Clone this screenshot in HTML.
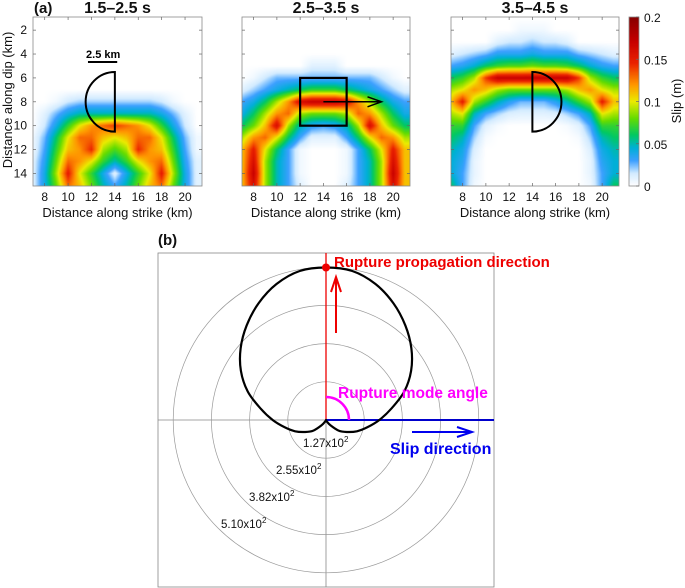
<!DOCTYPE html>
<html><head><meta charset="utf-8">
<style>
html,body{margin:0;padding:0;background:#fff;}
#wrap{position:relative;width:685px;height:588px;overflow:hidden;font-family:"Liberation Sans",Arial,sans-serif;}
canvas{position:absolute;}
svg{position:absolute;left:0;top:0;}
text{font-family:"Liberation Sans",Arial,sans-serif;}
</style></head>
<body>
<div id="wrap">
<canvas id="c1"></canvas>
<canvas id="c2"></canvas>
<canvas id="c3"></canvas>
<canvas id="cb"></canvas>
<svg id="svg" width="685" height="588"></svg>
</div>
<script>
// ---------- DATA ----------
// grid nodes: strike x = 7..21 (1 km), dip y = 1..15 (1 km)
// each row: half profile, distance |x-14| = 0..7 (mirrored about x=14)
const gridX = [7,8,9,10,11,12,13,14,15,16,17,18,19,20,21];
const gridY = [1,2,3,4,5,6,7,8,9,10,11,12,13,14,15];
const slip1 = [
 [0,0,0,0,0,0,0,0],[0,0,0,0,0,0,0,0],[0,0,0,0,0,0,0,0],[0,0,0,0,0,0,0,0],
 [0,0,0,0,0,0,0,0],[0,0,0,0,0,0,0,0],[0,0,0,0,0,0,0,0],
 [0.02,0.02,0.02,0.02,0.015,0.005,0,0],
 [0.05,0.05,0.05,0.05,0.04,0.025,0.01,0],
 [0.14,0.13,0.12,0.10,0.07,0.04,0.015,0],
 [0.10,0.11,0.13,0.13,0.10,0.06,0.025,0.005],
 [0.075,0.09,0.145,0.12,0.11,0.07,0.03,0.005],
 [0.05,0.07,0.10,0.12,0.13,0.08,0.035,0.01],
 [0.01,0.04,0.07,0.10,0.15,0.09,0.04,0.01],
 [0.03,0.05,0.08,0.11,0.13,0.08,0.04,0.01]
];
const slip2 = [
 [0,0,0,0,0,0,0,0],[0,0,0,0,0,0,0,0],[0,0,0,0,0,0,0,0],[0,0,0,0,0,0,0,0],
 [0.01,0.01,0,0,0,0,0,0],
 [0.025,0.025,0.025,0.025,0.025,0.015,0.005,0],
 [0.07,0.07,0.06,0.05,0.04,0.03,0.02,0.01],
 [0.17,0.17,0.16,0.12,0.09,0.06,0.04,0.03],
 [0.08,0.08,0.09,0.13,0.12,0.09,0.06,0.04],
 [0.03,0.035,0.05,0.09,0.16,0.11,0.08,0.06],
 [0.01,0.01,0.03,0.06,0.10,0.13,0.12,0.09],
 [0,0,0.005,0.03,0.06,0.10,0.15,0.11],
 [0,0,0.005,0.03,0.05,0.09,0.16,0.11],
 [0,0,0.005,0.03,0.05,0.09,0.17,0.11],
 [0,0,0.01,0.03,0.05,0.09,0.16,0.11]
];
const slip3 = [
 [0,0,0,0,0,0,0,0],
 [0.005,0.005,0,0,0,0,0,0],
 [0.02,0.015,0.015,0.01,0,0,0,0],
 [0.04,0.035,0.035,0.035,0.025,0.02,0.015,0.01],
 [0.08,0.075,0.075,0.07,0.06,0.045,0.035,0.03],
 [0.17,0.17,0.17,0.17,0.14,0.09,0.07,0.06],
 [0.08,0.08,0.08,0.09,0.11,0.12,0.10,0.09],
 [0.025,0.025,0.035,0.05,0.07,0.09,0.15,0.11],
 [0.01,0.01,0.012,0.02,0.03,0.05,0.10,0.09],
 [0,0,0,0.003,0.01,0.03,0.07,0.07],
 [0,0,0,0,0.003,0.02,0.05,0.06],
 [0,0,0,0,0,0.012,0.04,0.05],
 [0,0,0,0,0,0.008,0.035,0.045],
 [0,0,0,0,0,0.008,0.03,0.045],
 [0,0,0,0,0,0.005,0.03,0.06]
];
const panelTitles = ["1.5\u20132.5 s","2.5\u20133.5 s","3.5\u20134.5 s"];
const xTicks = [8,10,12,14,16,18,20];
const yTicks = [2,4,6,8,10,12,14];
const cbTicks = [0,0.05,0.1,0.15,0.2];
const cbLabels = ["0","0.05","0.1","0.15","0.2"];
// polar pattern (panel b): angle from downward axis (deg), radius (x10^2)
const polarAngles = [0,10,20,30,40,50,60,70,80,90,100,110,120,130,140,150,160,170,180];
const polarRadii  = [0,0,0.01,0.05,0.23,0.55,0.8,1.1,1.4,1.78,2.22,2.78,3.28,3.72,4.12,4.5,4.83,5.05,5.09];
const ringValues = [1.275,2.55,3.825,5.10];
const ringLabels = ["1.27x10","2.55x10","3.82x10","5.10x10"];

// ---------- COLORMAP ----------
const cmStops=[[0,[255,255,255]],[0.015,[210,235,255]],[0.03,[60,160,255]],[0.045,[0,175,215]],[0.06,[0,200,100]],[0.08,[100,220,0]],[0.1,[235,235,0]],[0.12,[255,150,0]],[0.145,[235,35,0]],[0.17,[200,0,0]],[0.2,[135,0,0]]];
function cmap(v){
  if(v<=0) return cmStops[0][1];
  for(let i=1;i<cmStops.length;i++){
    if(v<=cmStops[i][0]){const a=cmStops[i-1],b=cmStops[i];const t=(v-a[0])/(b[0]-a[0]);
      return [0,1,2].map(k=>Math.round(a[1][k]+(b[1][k]-a[1][k])*t));}
  }
  return cmStops[cmStops.length-1][1];
}
// ---------- AXES ----------
const panels=[{l:33,r:202},{l:242,r:410},{l:451,r:619}];
const TOP=17,BOT=186,XMIN=7,XMAX=21.45,YMIN=0.9,YMAX=15.05;
function xs(p,v){return p.l+(v-XMIN)/(XMAX-XMIN)*(p.r-p.l);}
function ys(v){return TOP+(v-YMIN)/(YMAX-YMIN)*(BOT-TOP);}
function gridVal(data,x,y){
  let cx=Math.min(Math.max(x,gridX[0]),gridX[gridX.length-1]);
  let cy=Math.min(Math.max(y,gridY[0]),gridY[gridY.length-1]);
  let i=Math.min(Math.floor(cx-gridX[0]),gridX.length-2),j=Math.min(Math.floor(cy-gridY[0]),gridY.length-2);
  let tx=cx-gridX[i],ty=cy-gridY[j];
  const g=(ii,jj)=>data[jj][Math.abs(gridX[ii]-14)];
  return (g(i,j)*(1-tx)+g(i+1,j)*tx)*(1-ty)+(g(i,j+1)*(1-tx)+g(i+1,j+1)*tx)*ty;
}
const datas=[slip1,slip2,slip3];
['c1','c2','c3'].forEach((id,k)=>{
  const p=panels[k],c=document.getElementById(id);
  const w=p.r-p.l,h=BOT-TOP;c.width=w;c.height=h;c.style.left=p.l+'px';c.style.top=TOP+'px';
  const ctx=c.getContext('2d'),im=ctx.createImageData(w,h);
  for(let py=0;py<h;py++)for(let px=0;px<w;px++){
    const x=XMIN+(px+0.5)/w*(XMAX-XMIN),y=YMIN+(py+0.5)/h*(YMAX-YMIN);
    const col=cmap(gridVal(datas[k],x,y));const o=(py*w+px)*4;
    im.data[o]=col[0];im.data[o+1]=col[1];im.data[o+2]=col[2];im.data[o+3]=255;}
  ctx.putImageData(im,0,0);
});
// colorbar
(function(){const c=document.getElementById('cb');const w=10,h=BOT-TOP;c.width=w;c.height=h;c.style.left='629px';c.style.top=TOP+'px';
 const ctx=c.getContext('2d');for(let py=0;py<h;py++){const col=cmap(0.2*(1-(py+0.5)/h));ctx.fillStyle=`rgb(${col})`;ctx.fillRect(0,py,w,1);}})();

// ---------- SVG ----------
const svg=document.getElementById('svg');const NS='http://www.w3.org/2000/svg';
function el(tag,attrs,parent){const e=document.createElementNS(NS,tag);for(const k in attrs)e.setAttribute(k,attrs[k]);(parent||svg).appendChild(e);return e;}
function txt(s,attrs,parent){const e=el('text',attrs,parent);e.textContent=s;return e;}

panels.forEach((p,k)=>{
  const g=el('g',{});
  
  
  el('rect',{x:p.l,y:TOP,width:p.r-p.l,height:BOT-TOP,fill:'none',stroke:'#8a8a8a','stroke-width':0.8},g);
  xTicks.forEach(v=>{const x=xs(p,v);
    el('line',{x1:x,y1:BOT,x2:x,y2:BOT-3,stroke:'#666','stroke-width':0.7},g);
    el('line',{x1:x,y1:TOP,x2:x,y2:TOP+3,stroke:'#666','stroke-width':0.7},g);
    const t=txt(String(v),{x:x,y:201,'font-size':12,'text-anchor':'middle',fill:'#111'},g);
    
    });
  yTicks.forEach(v=>{const y=ys(v);
    el('line',{x1:p.l,y1:y,x2:p.l+3,y2:y,stroke:'#666','stroke-width':0.7},g);
    el('line',{x1:p.r,y1:y,x2:p.r-3,y2:y,stroke:'#666','stroke-width':0.7},g);
    if(k===0){const t=txt(String(v),{x:27,y:y+4,'font-size':12,'text-anchor':'end',fill:'#111'},g);
      
      }});
  const xl=txt('Distance along strike (km)',{x:(p.l+p.r)/2,y:217,'font-size':13,'text-anchor':'middle',fill:'#111'},g);
  
  
  const ti=txt(panelTitles[k],{x:(p.l+p.r)/2,y:13,'font-size':16,'font-weight':'bold','text-anchor':'middle',fill:'#111'},g);
  
  
});
const pa=txt('(a)',{x:34,y:13,'font-size':15,'font-weight':'bold',fill:'#111'});


const yl=txt('Distance along dip (km)',{x:0,y:0,'font-size':13,'text-anchor':'middle',fill:'#111',transform:'translate(12,100) rotate(-90)'});


// colorbar axis
el('rect',{x:629,y:TOP,width:10,height:BOT-TOP,fill:'none',stroke:'#8a8a8a','stroke-width':0.8});
cbTicks.forEach((v,i)=>{const y=BOT-(v/0.2)*(BOT-TOP);
  el('line',{x1:636,y1:y,x2:639,y2:y,stroke:'#666','stroke-width':0.7});
  const t=txt(cbLabels[i],{x:644,y:y+5,'font-size':12,fill:'#111'});
  
  });
const sl=txt('Slip (m)',{x:0,y:0,'font-size':13,'text-anchor':'middle',fill:'#111',transform:'translate(681,101) rotate(-90)'});



// overlays
function halfDisc(p,cx,cy,r,dir){const x0=xs(p,cx),y1=ys(cy-r),y2=ys(cy+r),rx=xs(p,cx+r)-x0,ry=ys(cy+r)-ys(cy);
  return `M${x0},${y1} A${Math.abs(rx)},${ry} 0 0 ${dir>0?1:0} ${x0},${y2} Z`;}
const hd1=el('path',{d:halfDisc(panels[0],14,8,2.5,-1),fill:'none',stroke:'#000','stroke-width':2});


const sb=el('line',{x1:xs(panels[0],11.7),y1:62,x2:xs(panels[0],14.2),y2:62,stroke:'#000','stroke-width':2});


const sbt=txt('2.5 km',{x:xs(panels[0],13),y:58,'font-size':11,'font-weight':'bold','text-anchor':'middle',fill:'#000'});


const sq=el('rect',{x:xs(panels[1],12),y:ys(6),width:xs(panels[1],16)-xs(panels[1],12),height:ys(10)-ys(6),fill:'none',stroke:'#000','stroke-width':2.2});


const ar=el('path',{d:`M${xs(panels[1],14)},${ys(8)} L${xs(panels[1],19)},${ys(8)} M${xs(panels[1],19)-14},${ys(8)-5} L${xs(panels[1],19)},${ys(8)} L${xs(panels[1],19)-14},${ys(8)+5}`,fill:'none',stroke:'#000','stroke-width':1.5});


const hd3=el('path',{d:halfDisc(panels[2],14,8,2.5,1),fill:'none',stroke:'#000','stroke-width':2});



// ---------- PANEL B ----------
const CX=326,CY=420,PX=29.96; // px per 1x10^2
function pr(v){return v*PX;}
const pb=txt('(b)',{x:158,y:245,'font-size':15,'font-weight':'bold',fill:'#111'});


const box=el('rect',{x:158,y:253,width:336,height:334,fill:'none',stroke:'#888','stroke-width':0.8});


el('line',{x1:326,y1:253,x2:326,y2:587,stroke:'#888','stroke-width':0.8});
el('line',{x1:158,y1:420,x2:494,y2:420,stroke:'#888','stroke-width':0.8});
ringValues.forEach((v,i)=>{
  const c=el('circle',{cx:CX,cy:CY,r:pr(v),fill:'none',stroke:'#999','stroke-width':0.7});
  
  
  const t=txt('',{x:[303,276,249,221][i],y:[447,474,501,528][i],'font-size':11.5,fill:'#111'});
  
  
  t.textContent=ringLabels[i];
  const s=el('tspan',{dy:-5,'font-size':8},t);s.textContent='2';
});
// red vertical & blue horizontal
el('line',{x1:326,y1:253,x2:326,y2:420,stroke:'#e00','stroke-width':1.3});
el('line',{x1:326,y1:420,x2:494,y2:420,stroke:'#00c','stroke-width':2});
// polar curve (closed Catmull-Rom through all points)
(function(){
  const pts=[];
  const n=polarAngles.length;
  for(let i=n-1;i>=0;i--){const a=-polarAngles[i]*Math.PI/180;pts.push([CX+pr(polarRadii[i])*Math.sin(a),CY+pr(polarRadii[i])*Math.cos(a)]);}
  for(let i=1;i<n-1;i++){const a=polarAngles[i]*Math.PI/180;pts.push([CX+pr(polarRadii[i])*Math.sin(a),CY+pr(polarRadii[i])*Math.cos(a)]);}
  const m=pts.length;
  let d=`M${pts[0][0]},${pts[0][1]}`;
  for(let i=0;i<m;i++){
    const p0=pts[(i-1+m)%m],p1=pts[i],p2=pts[(i+1)%m],p3=pts[(i+2)%m];
    d+=` C${p1[0]+(p2[0]-p0[0])/6},${p1[1]+(p2[1]-p0[1])/6} ${p2[0]-(p3[0]-p1[0])/6},${p2[1]-(p3[1]-p1[1])/6} ${p2[0]},${p2[1]}`;
  }
  const c=el('path',{d:d,fill:'none',stroke:'#000','stroke-width':2.2,'stroke-linejoin':'round'});
  
  
})();
const dot=el('circle',{cx:CX,cy:CY-pr(polarRadii[polarRadii.length-1]),r:4,fill:'#e00'});


const rarr=el('path',{d:'M336,333 L336,278 M331,292 L336,277 L341,292',fill:'none',stroke:'#e00','stroke-width':2});


const rt=txt('Rupture propagation direction',{x:334,y:267,'font-size':15,'font-weight':'bold',fill:'#e00'});


const ma=el('path',{d:'M326,397 A23,23 0 0 1 349,420',fill:'none',stroke:'#f0f','stroke-width':2.5});


const mt=txt('Rupture mode angle',{x:338,y:398,'font-size':15.5,'font-weight':'bold',fill:'#f0f'});


const barr=el('path',{d:'M412,432 L471,432 M457,427 L472,432 L457,437',fill:'none',stroke:'#00e','stroke-width':2});


const st=txt('Slip direction',{x:390,y:454,'font-size':16,'font-weight':'bold',fill:'#00e'});


</script>
</body></html>
